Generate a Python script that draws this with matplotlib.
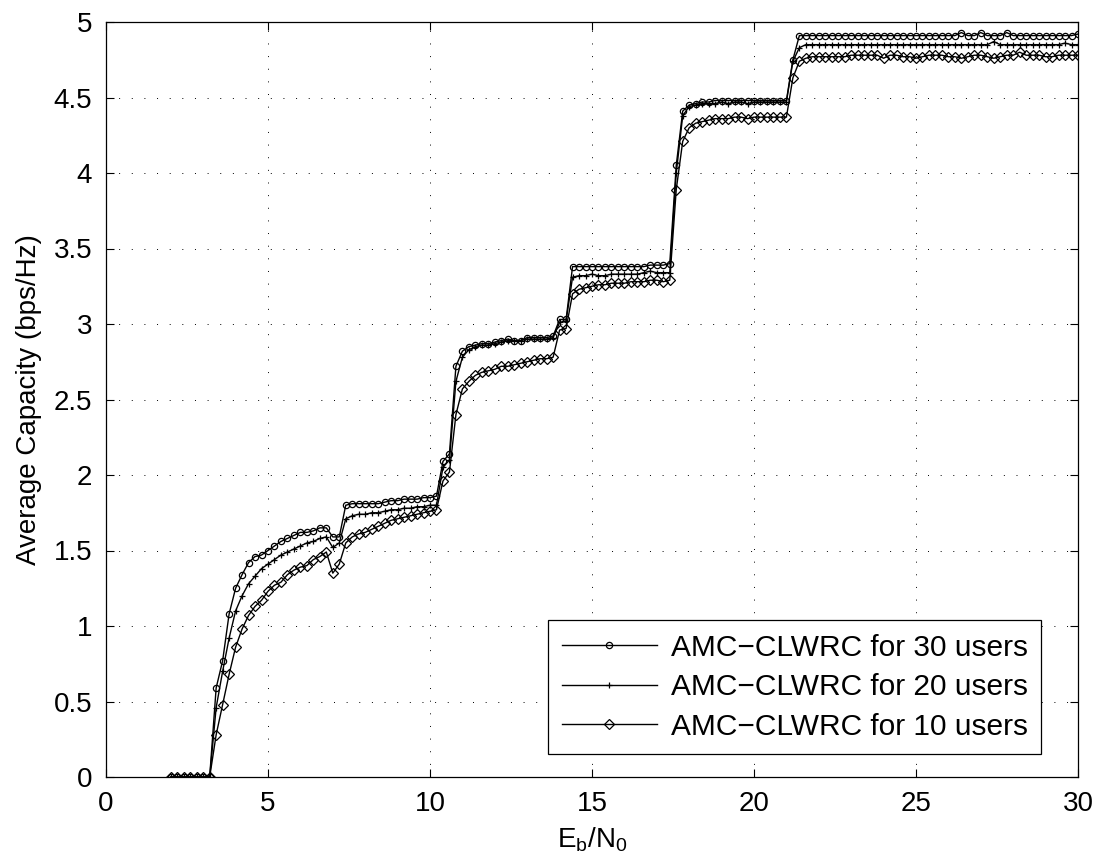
import numpy as np
import matplotlib
matplotlib.use("Agg")
import matplotlib.pyplot as plt

plt.rcParams['font.family'] = ['Liberation Sans', 'DejaVu Sans']
plt.rcParams['mathtext.fontset'] = 'custom'
plt.rcParams['mathtext.rm'] = 'Liberation Sans'
plt.rcParams['mathtext.it'] = 'Liberation Sans'

# ---- data (Eb/N0 grid: 2.0 .. 30.0 in steps of 0.2) ----
ebn0_start, ebn0_stop, ebn0_step = 2.0, 30.0, 0.2
ebn0 = np.round(np.arange(ebn0_start, ebn0_stop + ebn0_step / 2, ebn0_step), 1)

cap_30 = [
    0, 0, 0, 0, 0, 0, 0,                                   # 2.0-3.2
    0.59, 0.77, 1.08, 1.25, 1.34, 1.42, 1.46, 1.47,        # 3.4-4.8
    1.50, 1.53, 1.56, 1.58, 1.60, 1.62, 1.62, 1.63,        # 5.0-6.4
    1.65, 1.65, 1.59, 1.59,                                # 6.6-7.2
    1.80, 1.81, 1.81, 1.81, 1.81, 1.81, 1.82, 1.83,        # 7.4-8.8
    1.83, 1.84, 1.84, 1.84, 1.85, 1.85, 1.86,              # 9.0-10.2
    2.09, 2.14, 2.72, 2.82, 2.85, 2.86, 2.87, 2.87,        # 10.4-11.8
    2.88, 2.89, 2.90, 2.89, 2.89, 2.91, 2.91, 2.91,        # 12.0-13.4
    2.91, 2.92, 3.03, 3.03,                                # 13.6-14.2
    3.38, 3.38, 3.38, 3.38, 3.38, 3.38, 3.38, 3.38,        # 14.4-15.8
    3.38, 3.38, 3.38, 3.38, 3.39, 3.39, 3.39, 3.40,        # 16.0-17.4
    4.05, 4.41, 4.45, 4.46, 4.47, 4.47, 4.48, 4.48,        # 17.6-19.0
    4.48, 4.48, 4.48, 4.48, 4.48, 4.48, 4.48, 4.48,        # 19.2-20.6
    4.48, 4.48,                                            # 20.8-21.0
    4.75, 4.91, 4.91, 4.91, 4.91, 4.91, 4.91, 4.91,        # 21.2-22.6
    4.91, 4.91, 4.91, 4.91, 4.91, 4.91, 4.91, 4.91,        # 22.8-24.2
    4.91, 4.91, 4.91, 4.91, 4.91, 4.91, 4.91, 4.91,        # 24.4-25.8
    4.91, 4.91, 4.93, 4.91, 4.91, 4.93, 4.91, 4.91,        # 26.0-27.4
    4.91, 4.93, 4.91, 4.91, 4.91, 4.91, 4.91, 4.91,        # 27.6-29.0
    4.91, 4.91, 4.91, 4.91, 4.92,                          # 29.2-30.0
]

cap_20 = [
    0, 0, 0, 0, 0, 0, 0,
    0.46, 0.70, 0.92, 1.10, 1.20, 1.28, 1.33, 1.38,
    1.41, 1.44, 1.47, 1.49, 1.51, 1.53, 1.55, 1.56,
    1.58, 1.59, 1.52, 1.55,
    1.71, 1.73, 1.74, 1.74, 1.75, 1.75, 1.76, 1.77,
    1.77, 1.78, 1.78, 1.79, 1.79, 1.80, 1.80,
    2.05, 2.10, 2.62, 2.78, 2.83, 2.85, 2.86, 2.86,
    2.87, 2.88, 2.89, 2.89, 2.89, 2.90, 2.90, 2.90,
    2.90, 2.91, 3.01, 3.02,
    3.31, 3.32, 3.32, 3.33, 3.32, 3.32, 3.33, 3.33,
    3.33, 3.33, 3.33, 3.34, 3.35, 3.34, 3.34, 3.34,
    4.00, 4.38, 4.44, 4.45, 4.46, 4.46, 4.46, 4.47,
    4.46, 4.47, 4.47, 4.46, 4.47, 4.47, 4.47, 4.47,
    4.47, 4.47,
    4.74, 4.83, 4.85, 4.85, 4.85, 4.85, 4.85, 4.85,
    4.85, 4.85, 4.85, 4.85, 4.85, 4.85, 4.85, 4.85,
    4.85, 4.85, 4.85, 4.85, 4.85, 4.85, 4.85, 4.85,
    4.85, 4.85, 4.85, 4.85, 4.85, 4.85, 4.85, 4.87,
    4.85, 4.85, 4.85, 4.85, 4.85, 4.85, 4.85, 4.85,
    4.85, 4.85, 4.86, 4.85, 4.85,
]

cap_10 = [
    0, 0, 0, 0, 0, 0, 0,
    0.28, 0.48, 0.68, 0.86, 0.98, 1.07, 1.13, 1.17,
    1.23, 1.27, 1.29, 1.34, 1.37, 1.39, 1.40, 1.44,
    1.46, 1.49, 1.35, 1.41,
    1.55, 1.59, 1.61, 1.62, 1.64, 1.66, 1.68, 1.70,
    1.71, 1.72, 1.73, 1.74, 1.75, 1.76, 1.77,
    1.96, 2.02, 2.40, 2.57, 2.62, 2.66, 2.68, 2.69,
    2.70, 2.72, 2.72, 2.73, 2.74, 2.75, 2.76, 2.77,
    2.77, 2.78, 2.96, 2.97,
    3.20, 3.23, 3.24, 3.25, 3.26, 3.26, 3.27, 3.27,
    3.27, 3.28, 3.28, 3.28, 3.29, 3.29, 3.28, 3.29,
    3.89, 4.21, 4.30, 4.33, 4.34, 4.35, 4.36, 4.36,
    4.36, 4.37, 4.37, 4.36, 4.37, 4.37, 4.37, 4.37,
    4.37, 4.37,
    4.63, 4.74, 4.76, 4.77, 4.77, 4.77, 4.77, 4.77,
    4.77, 4.78, 4.78, 4.78, 4.78, 4.78, 4.76, 4.78,
    4.78, 4.77, 4.77, 4.76, 4.77, 4.78, 4.78, 4.78,
    4.77, 4.77, 4.76, 4.77, 4.78, 4.78, 4.77, 4.76,
    4.77, 4.78, 4.78, 4.80, 4.78, 4.78, 4.78, 4.77,
    4.77, 4.78, 4.78, 4.78, 4.78,
]

labels = ["AMC\u2212CLWRC for 30 users",
          "AMC\u2212CLWRC for 20 users",
          "AMC\u2212CLWRC for 10 users"]

x_ticks = [0, 5, 10, 15, 20, 25, 30]
y_ticks = [0, 0.5, 1, 1.5, 2, 2.5, 3, 3.5, 4, 4.5, 5]
y_ticklabels = ["0", "0.5", "1", "1.5", "2", "2.5", "3", "3.5", "4", "4.5", "5"]

# ---- figure ----
fig = plt.figure(figsize=(10.97, 8.59), dpi=100)
ax = fig.add_axes([106 / 1097, 1 - 777 / 859, (1078 - 106) / 1097, (777 - 22) / 859])

ax.plot(ebn0, cap_30, color='black', lw=1.0, marker='o', ms=4.5,
        mfc='none', mec='black', mew=0.9, label=labels[0])
ax.plot(ebn0, cap_20, color='black', lw=1.0, marker='+', ms=4,
        mec='black', mew=0.9, label=labels[1])
ax.plot(ebn0, cap_10, color='black', lw=1.0, marker='D', ms=5,
        mfc='none', mec='black', mew=0.9, label=labels[2])

ax.set_xlim(0, 30)
ax.set_ylim(0, 5)
ax.set_xticks(x_ticks)
ax.set_yticks(y_ticks)
ax.set_yticklabels(y_ticklabels)
ax.tick_params(direction='in', length=6, width=0.8, top=True, right=True,
               labelsize=20, pad=10)
ax.grid(True, color='black', linestyle=(0, (1, 12)), linewidth=0.7)
for s in ax.spines.values():
    s.set_linewidth(0.9)

ax.set_xlabel(r'$\mathregular{E_b/N_0}$', fontsize=20, labelpad=6)
ax.set_ylabel('Average Capacity (bps/Hz)', fontsize=20, labelpad=8)

leg = ax.legend(loc='lower right', bbox_to_anchor=(1041 / 1097, 1 - 754 / 859),
                bbox_transform=fig.transFigure, fontsize=21.5, frameon=True,
                fancybox=False, edgecolor='black', framealpha=1,
                handlelength=3.2, handletextpad=0.45, labelspacing=0.38,
                borderpad=0.45, borderaxespad=0)
leg.get_frame().set_linewidth(0.9)

fig.savefig('out.png', dpi=100)
